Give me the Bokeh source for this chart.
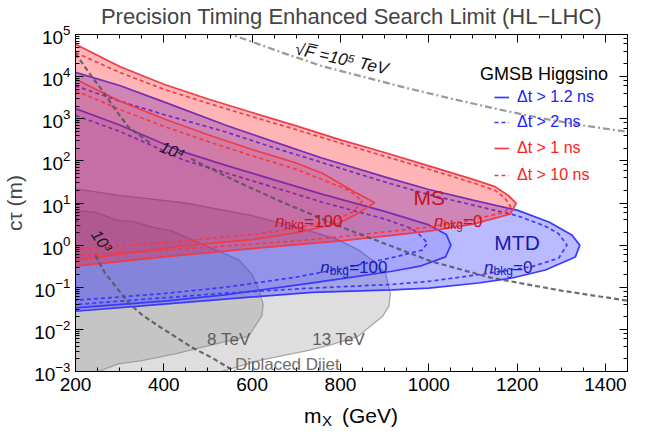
from bokeh.plotting import figure
from bokeh.layouts import column
from bokeh.models import (Range1d, LogAxis, LinearAxis, LogTicker, SingleIntervalTicker,
                          Label, Legend, LegendItem, CustomJSTickFormatter, Div)
from bokeh.embed import file_html
from bokeh.resources import INLINE

FONT = "Liberation Sans"

# ---------------- data (m_X in GeV, c*tau in m) ----------------
# MS, n_bkg = 0, dt > 1 ns (solid): upper edge then lower edge back from the tip
ms0_s_up_m = [200, 300, 400, 500, 600, 700, 800, 900, 1000, 1100, 1150, 1180, 1198]
ms0_s_up_c = [5.9e4, 1.74e4, 6.6e3, 2.95e3, 1.41e3, 676, 316, 158, 75.9, 36.3, 24.5, 15.1, 9.8]
ms0_s_lo_m = [1185, 1100, 1000, 917, 800, 600, 400, 200]
ms0_s_lo_c = [5.5, 3.16, 2.14, 1.70, 1.26, 0.83, 0.525, 0.316]
# MS, n_bkg = 0, dt > 10 ns (dashed)
ms0_d_up_m = [200, 300, 400, 500, 600, 700, 800, 900, 1000, 1100, 1150, 1172, 1186]
ms0_d_up_c = [3.72e4, 1.26e4, 5.0e3, 2.34e3, 1.12e3, 550, 263, 129, 63.1, 30.2, 20.0, 13.2, 7.94]
ms0_d_lo_m = [1170, 1100, 1000, 917, 800, 700, 600, 400, 200]
ms0_d_lo_c = [6.03, 3.98, 2.69, 2.14, 1.58, 1.26, 1.05, 0.76, 0.575]
# MS, n_bkg = 100, dt > 1 ns (solid)
ms100_s_up_m = [200, 300, 400, 500, 600, 700, 760, 834, 878]
ms100_s_up_c = [8.7e3, 2.63e3, 1.0e3, 417, 186, 89.1, 50.1, 17.8, 10.2]
ms100_s_lo_m = [834, 796, 706, 600, 442, 200]
ms100_s_lo_c = [5.25, 3.31, 2.0, 1.35, 0.955, 0.437]
# MS, n_bkg = 100, dt > 10 ns (dashed)
ms100_d_up_m = [200, 300, 400, 500, 600, 700, 760, 820, 849]
ms100_d_up_c = [4.68e3, 1.66e3, 661, 288, 132, 63.1, 35.5, 20.0, 11.2]
ms100_d_lo_m = [830, 790, 700, 600, 442, 200]
ms100_d_lo_c = [6.3, 3.98, 2.51, 1.78, 1.26, 0.794]
# MTD, n_bkg = 0, dt > 1.2 ns (solid)
mtd0_s_up_m = [200, 300, 400, 539, 650, 758, 900, 1000, 1100, 1200, 1272, 1324, 1342]
mtd0_s_up_c = [1.26e4, 6.17e3, 2.51e3, 708, 282, 117, 41.7, 20.9, 11.7, 6.76, 3.55, 1.74, 1.0]
mtd0_s_lo_m = [1332, 1264, 1189, 1113, 1000, 917, 736, 539, 400, 200]
mtd0_s_lo_c = [0.525, 0.257, 0.166, 0.126, 0.0955, 0.0871, 0.0759, 0.0525, 0.0398, 0.0269]
# MTD, n_bkg = 0, dt > 2 ns (dashed)
mtd0_d_up_m = [200, 300, 400, 539, 650, 758, 900, 1000, 1100, 1200, 1264, 1294, 1313]
mtd0_d_up_c = [6.03e3, 2.63e3, 1.26e3, 490, 204, 91.2, 31.6, 15.8, 8.91, 5.01, 2.82, 1.86, 1.0]
mtd0_d_lo_m = [1294, 1234, 1128, 1000, 917, 736, 539, 400, 200]
mtd0_d_lo_c = [0.49, 0.309, 0.209, 0.138, 0.117, 0.0955, 0.0724, 0.0562, 0.0389]
# MTD, n_bkg = 100, dt > 1.2 ns (solid)
mtd100_s_up_m = [200, 300, 400, 442, 539, 650, 758, 900, 1000, 1040, 1050]
mtd100_s_up_c = [1.74e3, 708, 251, 166, 79.4, 35.5, 16.2, 6.31, 3.02, 1.78, 1.0]
mtd100_s_lo_m = [1038, 980, 917, 800, 700, 539, 400, 200]
mtd100_s_lo_c = [0.525, 0.316, 0.24, 0.158, 0.112, 0.0661, 0.0468, 0.0324]
# MTD, n_bkg = 100, dt > 2 ns (dashed)
mtd100_d_up_m = [200, 300, 400, 442, 539, 650, 758, 900, 960, 977, 997]
mtd100_d_up_c = [1.2e3, 501, 174, 107, 52.5, 23.4, 10.5, 4.17, 2.51, 1.86, 1.12]
mtd100_d_lo_m = [985, 924, 800, 700, 539, 400, 200]
mtd100_d_lo_c = [0.76, 0.525, 0.275, 0.174, 0.1, 0.0708, 0.049]
# Displaced dijet limits (closed outlines)
dj13_m = [190, 204, 300, 449, 600, 713, 790, 842, 880, 902, 913, 910, 895, 878, 841, 780, 728, 614, 554, 531, 520, 190]
dj13_c = [22.9, 21.4, 15.1, 10.0, 5.01, 2.45, 1.41, 0.759, 0.38, 0.214, 0.0724, 0.0355, 0.02, 0.0145,
          0.00692, 0.00437, 0.00316, 0.00182, 0.00117, 0.001, 0.0005, 0.0005]
dj8_m = [190, 204, 245, 298, 328, 374, 419, 449, 525, 570, 600, 615, 625, 622, 592, 516, 426, 350, 297, 252, 240, 190]
dj8_c = [6.76, 6.61, 6.03, 3.8, 3.72, 2.69, 2.14, 1.58, 0.708, 0.447, 0.2, 0.0871, 0.0398, 0.0209,
         0.00692, 0.00447, 0.00263, 0.00182, 0.00151, 0.001, 0.0005, 0.0005]
# contours
sqrtF_m = [540, 668, 758, 850, 950, 1050, 1150, 1250, 1350, 1450]
sqrtF_c = [1.12e5, 3.72e4, 1.78e4, 1.0e4, 5.37e3, 3.02e3, 1.74e3, 1.05e3, 692, 490]
c1e4_a_m = [200, 230, 260, 290, 320, 372]
c1e4_a_c = [3.55e4, 1.26e4, 4.79e3, 1.66e3, 631, 251]
c1e4_b_m = [462, 555, 668, 819, 1007, 1143, 1300, 1450]
c1e4_b_c = [112, 36.3, 10.5, 2.29, 0.407, 0.166, 0.0832, 0.0479]
c1e3_a_m = [200, 210]
c1e3_a_c = [4.47, 2.75]
c1e3_b_m = [245, 267, 297, 320, 350, 388, 430, 464, 510, 550, 570]
c1e3_b_c = [0.575, 0.214, 0.0871, 0.0427, 0.0224, 0.012, 0.0063, 0.00372, 0.00209, 0.00117, 0.00089]

x_ticks_interval = 200

# ---------------- figure ----------------
p = figure(width=638, height=401, x_range=Range1d(200, 1450), y_range=Range1d(1e-3, 1e5),
           y_axis_type="log", output_backend="svg", toolbar_location=None,
           min_border_left=75, min_border_right=11, min_border_top=30, min_border_bottom=30,
           title="Precision Timing Enhanced Search Limit (HL\u2212LHC)")
p.title.text_font = FONT
p.title.text_font_size = "22px"
p.title.text_font_style = "normal"
p.title.align = "center"
p.title.standoff = 2
p.outline_line_color = "black"
p.outline_line_width = 1
p.xgrid.visible = False
p.ygrid.visible = False

RED = "#f23a48"
BLUE = "#3a3aff"
GRAY = "#8a8a8a"

# gray displaced dijet regions
p.patch(dj13_m, dj13_c, fill_color="#808080", fill_alpha=0.26, line_color=GRAY, line_alpha=0.7, line_width=1.3)
p.patch(dj8_m, dj8_c, fill_color="#808080", fill_alpha=0.26, line_color=GRAY, line_alpha=0.7, line_width=1.3)

def fill(up_m, up_c, lo_m, lo_c, color, alpha):
    p.patch(up_m + lo_m, up_c + lo_c, fill_color=color, fill_alpha=alpha, line_color=None)

def edge(up_m, up_c, lo_m, lo_c, color, dash):
    return p.line(up_m + lo_m, up_c + lo_c, line_color=color, line_width=1.7, line_dash=dash)

# MTD (blue) first
fill(mtd0_s_up_m, mtd0_s_up_c, mtd0_s_lo_m, mtd0_s_lo_c, "#2020ff", 0.31)
fill(mtd100_s_up_m, mtd100_s_up_c, mtd100_s_lo_m, mtd100_s_lo_c, "#2020ff", 0.12)
r_b_s = edge(mtd0_s_up_m, mtd0_s_up_c, mtd0_s_lo_m, mtd0_s_lo_c, BLUE, "solid")
r_b_d = edge(mtd0_d_up_m, mtd0_d_up_c, mtd0_d_lo_m, mtd0_d_lo_c, BLUE, "4 3")
edge(mtd100_s_up_m, mtd100_s_up_c, mtd100_s_lo_m, mtd100_s_lo_c, BLUE, "solid")
edge(mtd100_d_up_m, mtd100_d_up_c, mtd100_d_lo_m, mtd100_d_lo_c, BLUE, "4 3")

# MS (red) on top
fill(ms0_s_up_m, ms0_s_up_c, ms0_s_lo_m, ms0_s_lo_c, "#ff1010", 0.31)
fill(ms100_s_up_m, ms100_s_up_c, ms100_s_lo_m, ms100_s_lo_c, "#ff1010", 0.08)
r_r_s = edge(ms0_s_up_m, ms0_s_up_c, ms0_s_lo_m, ms0_s_lo_c, RED, "solid")
r_r_d = edge(ms0_d_up_m, ms0_d_up_c, ms0_d_lo_m, ms0_d_lo_c, RED, "4 3")
edge(ms100_s_up_m, ms100_s_up_c, ms100_s_lo_m, ms100_s_lo_c, RED, "solid")
edge(ms100_d_up_m, ms100_d_up_c, ms100_d_lo_m, ms100_d_lo_c, RED, "4 3")

# contour lines
p.line(sqrtF_m, sqrtF_c, line_color="#9a9a9a", line_width=2.2, line_dash="7 3 2 3")
for xs, ys in [(c1e4_a_m, c1e4_a_c), (c1e4_b_m, c1e4_b_c), (c1e3_a_m, c1e3_a_c), (c1e3_b_m, c1e3_b_c)]:
    p.line(xs, ys, line_color="#5a5060", line_alpha=0.85, line_width=2.2, line_dash="5 3")

# ---------------- axes ----------------
blank = CustomJSTickFormatter(code="return ' ';")

def style_axis(ax, labels=True):
    ax.axis_line_color = "black"
    ax.axis_line_width = 1
    ax.major_tick_in = 8
    ax.major_tick_out = 0
    ax.minor_tick_in = 4
    ax.minor_tick_out = 0
    ax.major_tick_line_color = "black"
    ax.minor_tick_line_color = "black"
    ax.major_label_text_font = FONT
    ax.major_label_text_color = "black"
    if labels:
        ax.major_label_text_font_size = "19px"
    else:
        ax.formatter = blank
        ax.major_label_text_font_size = "2px"
        ax.major_label_standoff = 0

xax = p.xaxis[0]
xax.ticker = SingleIntervalTicker(interval=x_ticks_interval, num_minor_ticks=4)
style_axis(xax)
xax.major_label_standoff = 6
yax = p.yaxis[0]
style_axis(yax)
yax.major_label_standoff = 5
yax.axis_label = "c\u03c4 (m)"
yax.axis_label_text_font = FONT
yax.axis_label_text_font_size = "21px"
yax.axis_label_text_font_style = "normal"
yax.axis_label_standoff = 5

top = LinearAxis(ticker=SingleIntervalTicker(interval=x_ticks_interval, num_minor_ticks=4))
style_axis(top, labels=False)
p.add_layout(top, "above")
right = LogAxis(ticker=LogTicker())
style_axis(right, labels=False)
p.add_layout(right, "right")

def lab(x, y, text, size, color="black", style="normal", dx=0, dy=0, align="left",
        baseline="alphabetic", angle=0):
    p.add_layout(Label(x=x, y=y, text=text, x_offset=dx, y_offset=dy, text_font=FONT,
                       text_font_size=size, text_color=color, text_font_style=style,
                       text_align=align, text_baseline=baseline, angle=angle, angle_units="deg"))

# ---------------- annotations ----------------
DRED = "#c0141e"
DBLUE = "#1a1ab0"

def nbkg(x, y, rest, color):
    lab(x, y, "n", "17px", color, "italic")
    lab(x, y, "bkg", "12px", color, dx=9.5, dy=-4)
    lab(x, y, rest, "17px", color, dx=29)

lab(1001, 13.8, "MS", "21px", DRED, align="center", baseline="middle")
nbkg(1012, 3.7, "=0", DRED)
nbkg(652, 3.7, "=100", DRED)
lab(1200, 1.18, "MTD", "21px", DBLUE, align="center", baseline="middle")
nbkg(1125, 0.3, "=0", DBLUE)
nbkg(754, 0.3, "=100", DBLUE)

lab(498, 5.7e-3, "8 TeV", "17px", "#5e5e5e")
lab(736, 5.7e-3, "13 TeV", "17px", "#5e5e5e")
lab(561, 1.5e-3, "Diplaced Dijet", "17px", "#6e6e6e")

lab(419, 174, "10\u2074", "16px", "#151515", "italic", align="center", baseline="middle", angle=-22)
lab(259, 1.245, "10\u00b3", "16px", "#151515", "italic", align="center", baseline="middle", angle=-55)
lab(803, 2.6e4, "\u221aF\u0305 =10\u2075 TeV", "17px", "#151515", "italic", align="center",
    baseline="middle", angle=-12.5)

# legend
lab(1116, 1.15e4, "GMSB Higgsino", "18px")
common = dict(orientation="vertical", glyph_width=15, glyph_height=20, label_height=20,
              label_standoff=8, padding=0, margin=0, border_line_color=None,
              background_fill_alpha=0, label_text_font=FONT, label_text_font_size="16px")
leg_b = Legend(items=[LegendItem(label="\u0394t > 1.2 ns", renderers=[r_b_s]),
                      LegendItem(label="\u0394t > 2 ns", renderers=[r_b_d])],
               location=(419, 239), spacing=5, label_text_color="#2020ff", **common)
leg_r = Legend(items=[LegendItem(label="\u0394t > 1 ns", renderers=[r_r_s]),
                      LegendItem(label="\u0394t > 10 ns", renderers=[r_r_d])],
               location=(419, 186), spacing=7, label_text_color="#ff2020", **common)
p.add_layout(leg_b)
p.add_layout(leg_r)

# ---------------- x axis title (m_X with a real subscript) ----------------
span = "position:absolute;white-space:nowrap;font-family:'Liberation Sans';color:black;"
xtitle = Div(
    text=('<div style="position:relative;width:638px;height:26px;">'
          f'<span style="{span}left:304px;top:4px;font-size:21px;line-height:21px;">m</span>'
          f'<span style="{span}left:322px;top:12px;font-size:15px;line-height:15px;">X</span>'
          f'<span style="{span}left:342px;top:4px;font-size:21px;line-height:21px;">(GeV)</span>'
          '</div>'),
    width=638, height=26, margin=0)

open("out.html", "w").write(file_html(column(p, xtitle, spacing=0), INLINE))
